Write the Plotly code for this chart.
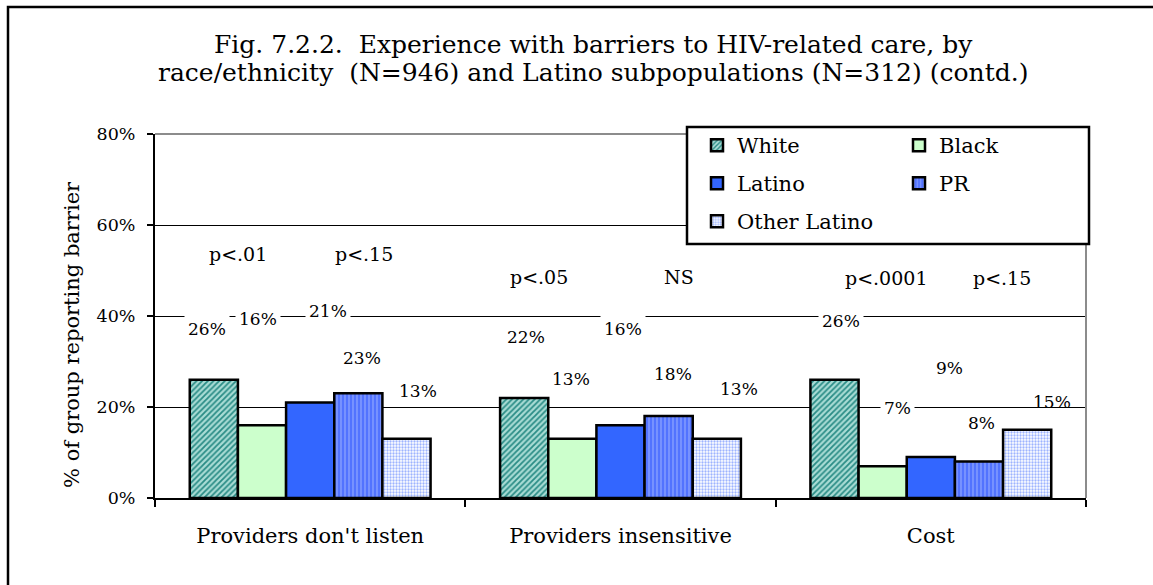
import plotly.graph_objects as go

# Barriers to HIV-related care, % of each group reporting the barrier
categories = ["Providers don't listen", "Providers insensitive", "Cost"]
groups = ["White", "Black", "Latino", "PR", "Other Latino"]
white = [26, 22, 26]
black = [16, 13, 7]
latino = [21, 16, 9]
pr = [23, 18, 8]
other_latino = [13, 13, 15]
values = [white, black, latino, pr, other_latino]

# significance notes above each category (two per category)
p_notes = [["p<.01", "p<.15"], ["p<.05", "NS"], ["p<.0001", "p<.15"]]

y_ticks = [0, 20, 40, 60, 80]
y_tick_text = [f"{v}%" for v in y_ticks]

title_lines = [
    "Fig. 7.2.2.\u00a0 Experience with barriers to HIV-related care, by",
    "race/ethnicity\u00a0 (N=946) and Latino subpopulations (N=312) (contd.)",
]
y_title = "% of group reporting barrier"

# ---- styling / placement --------------------------------------------------
FONT = "DejaVu Serif"
W, H = 1153, 585
ML, MR, MT, MB = 155, 67, 134, 87
PW, PH = W - ML - MR, H - MT - MB
BARGAP = 0.224
BAR_W = (1 - BARGAP) / len(groups)

styles = [
    dict(color="#5fb3ab", pattern=dict(shape="/", fgcolor="#2a8c86", bgcolor="#a9dcd5", size=4, solidity=0.45)),
    dict(color="#ccffcc"),
    dict(color="#3366ff"),
    dict(color="#5a7bff", pattern=dict(shape="|", fgcolor="#8fa6ff", bgcolor="#5273ff", size=4, solidity=0.3)),
    dict(color="#e4ebff", pattern=dict(shape=".", fgcolor="#9db4ff", bgcolor="#ffffff", size=3, solidity=0.45)),
]
legend_of = ["legend", "legend2", "legend", "legend2", "legend"]

# value-label placement: horizontal nudge (px) and height (axis units)
label_dx = [[-7, 2, 6], [-4, -1, 15], [18, 2, 19], [4, 4, 2], [12, 22, 25]]
label_y = [[37.1, 35.4, 38.9], [39.3, 26.1, 19.8], [41.1, 37.1, 28.6],
           [30.7, 27.2, 16.4], [23.6, 23.9, 21.2]]
label_no_bg = {(4, 2)}
# note placement: offset from category centre (category units), height
note_dx = [[-0.232, 0.174], [-0.262, 0.189], [-0.145, 0.230]]
note_y = [53.6, 48.5, 48.4]


def px_x(p):
    return (p - ML) / PW


def px_y(p):
    return (H - MB - p) / PH


fig = go.Figure()
for k, name in enumerate(groups):
    st = styles[k]
    marker = dict(color=st["color"], line=dict(color="black", width=2.5))
    if "pattern" in st:
        marker["pattern"] = dict(fillmode="replace", **st["pattern"])
    fig.add_trace(go.Bar(
        x=categories, y=values[k], name=name, marker=marker,
        legend=legend_of[k], legendgroup=name, hoverinfo="x+y+name",
    ))

annotations = []
for k, series in enumerate(values):
    for g, v in enumerate(series):
        annotations.append(dict(
            x=g + (k - 2) * BAR_W, y=label_y[k][g], xref="x", yref="y",
            xshift=label_dx[k][g], text=f"{v}%", showarrow=False,
            font=dict(family=FONT, size=17, color="black"),
            bgcolor=None if (k, g) in label_no_bg else "white", borderpad=3,
        ))
for g, notes in enumerate(p_notes):
    for j, note in enumerate(notes):
        annotations.append(dict(
            x=g + note_dx[g][j], y=note_y[g], xref="x", yref="y",
            text=note, showarrow=False,
            font=dict(family=FONT, size=19, color="black"),
        ))
# two-line heading
for line, ypx in zip(title_lines, [44, 73]):
    annotations.append(dict(
        x=px_x(593), y=px_y(ypx), xref="paper", yref="paper",
        xanchor="center", yanchor="middle", text=line, showarrow=False,
        font=dict(family=FONT, size=25, color="black"),
    ))
# rotated value-axis title
annotations.append(dict(
    x=px_x(72), y=px_y(335), xref="paper", yref="paper",
    xanchor="center", yanchor="middle", text=y_title, textangle=-90,
    showarrow=False, font=dict(family=FONT, size=21, color="black"),
))

shapes = [
    # outer frame
    dict(type="rect", xref="paper", yref="paper",
         x0=px_x(8), x1=px_x(1175), y0=px_y(600), y1=px_y(7),
         line=dict(color="black", width=2.5), fillcolor="rgba(0,0,0,0)", layer="below"),
    # top and right edges of the plot area
    dict(type="line", xref="paper", yref="paper", x0=0, x1=1, y0=1, y1=1,
         line=dict(color="#8c8c8c", width=2), layer="above"),
    dict(type="line", xref="paper", yref="paper", x0=1, x1=1, y0=0, y1=1,
         line=dict(color="#8c8c8c", width=2), layer="above"),
    # legend box
    dict(type="rect", xref="paper", yref="paper",
         x0=px_x(687), x1=px_x(1089), y0=px_y(244), y1=px_y(127),
         line=dict(color="black", width=2.5), fillcolor="white", layer="above"),
]

legend_common = dict(
    bgcolor="rgba(0,0,0,0)", borderwidth=0, orientation="v",
    font=dict(family=FONT, size=21, color="black"),
    tracegroupgap=7.7, yanchor="top", xanchor="left", itemclick=False,
)

fig.update_layout(
    width=W, height=H,
    margin=dict(l=ML, r=MR, t=MT, b=MB, pad=0),
    paper_bgcolor="white", plot_bgcolor="white",
    font=dict(family=FONT, color="black"),
    barmode="group", bargap=BARGAP, bargroupgap=0,
    xaxis=dict(
        type="category", range=[-0.5, 2.5], showgrid=False, zeroline=False,
        showline=True, linecolor="black", linewidth=2,
        ticks="outside", tickson="boundaries", ticklen=7, tickwidth=2, tickcolor="black",
        tickfont=dict(family=FONT, size=21, color="black"), ticklabelstandoff=18,
    ),
    yaxis=dict(
        range=[0, 80], tickmode="array", tickvals=y_ticks, ticktext=y_tick_text,
        showgrid=True, gridcolor="black", gridwidth=1, zeroline=False,
        showline=True, linecolor="black", linewidth=2,
        ticks="outside", ticklen=6, tickwidth=2, tickcolor="black",
        tickfont=dict(family=FONT, size=17.5, color="black"), ticklabelstandoff=8,
    ),
    legend=dict(x=px_x(697), y=px_y(125), **legend_common),
    legend2=dict(x=px_x(899), y=px_y(125), **legend_common),
    annotations=annotations,
    shapes=shapes,
    showlegend=True,
)

fig.write_html("out.html")
